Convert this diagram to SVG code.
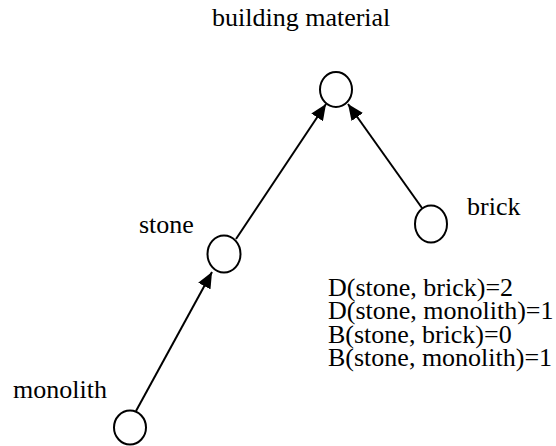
<svg xmlns="http://www.w3.org/2000/svg" width="556" height="446" viewBox="0 0 556 446">
<style>
.t{font-size:26px;fill:#000}
.n{fill:#fff;stroke:#000;stroke-width:2}
.e{stroke:#000;stroke-width:2;fill:none;marker-end:url(#ah)}
</style>
<defs>
<marker id="ah" markerUnits="userSpaceOnUse" markerWidth="16" markerHeight="14" refX="16" refY="7" orient="auto">
<path d="M0,0 L16,7 L0,14 Z" fill="#000"/>
</marker>
</defs>
<g id="edges">
<line class="e" x1="136" y1="411" x2="212" y2="272"/>
<line class="e" x1="236" y1="239" x2="326" y2="104"/>
<line class="e" x1="422" y1="208" x2="348" y2="104"/>
</g>
<g font-family="'Liberation Serif', 'Times New Roman', serif">
<g id="building"><ellipse class="n" cx="336" cy="89.5" rx="16" ry="17.5"/><text class="t" x="212" y="26">building material</text></g>
<g id="stone"><ellipse class="n" cx="224" cy="254" rx="16.5" ry="18.5"/><text class="t" x="139" y="233">stone</text></g>
<g id="brick"><ellipse class="n" cx="431" cy="224" rx="16" ry="18.5"/><text class="t" x="467" y="215">brick</text></g>
<g id="monolith"><ellipse class="n" cx="130" cy="427.5" rx="16" ry="17"/><text class="t" x="13" y="398">monolith</text></g>
<g id="measures">
<text class="t" x="328" y="296">D(stone, brick)=2</text>
<text class="t" x="328" y="319">D(stone, monolith)=1</text>
<text class="t" x="328" y="343">B(stone, brick)=0</text>
<text class="t" x="328" y="366">B(stone, monolith)=1</text>
</g>
</g>
</svg>
